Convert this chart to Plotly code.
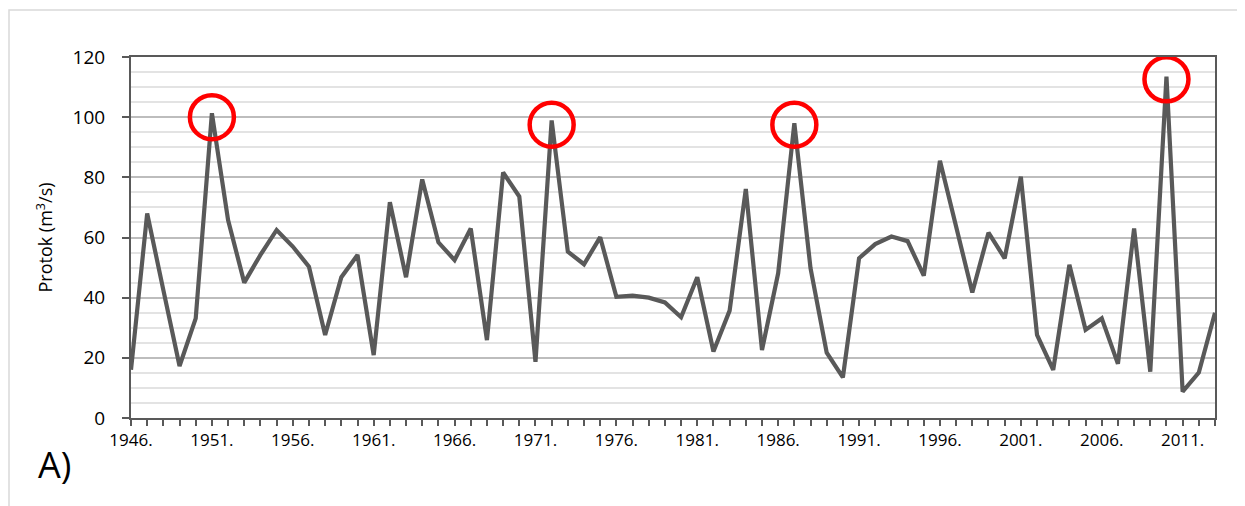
import plotly.graph_objects as go

# Godišnji protok, 1946.-2013.
years = list(range(1946, 2014))
flow = [
    16.0, 68.0, 42.5, 17.3, 33.1, 101.3, 65.8, 45.0, 54.2, 62.5,
    57.0, 50.3, 27.6, 46.8, 54.2, 20.9, 71.7, 46.8, 79.3, 58.4,
    52.5, 63.0, 25.9, 81.6, 73.6, 18.7, 98.9, 55.3, 51.1, 60.1,
    40.3, 40.7, 40.0, 38.4, 33.5, 46.8, 22.1, 35.7, 76.1, 22.6,
    48.1, 98.0, 49.8, 21.7, 13.5, 53.1, 57.8, 60.3, 58.8, 47.3,
    85.5, 63.5, 41.7, 61.6, 53.1, 80.2, 27.6, 16.0, 50.9, 29.3,
    33.1, 18.0, 63.0, 15.4, 113.5, 8.8, 15.1, 35.0,
]

# Istaknuti maksimumi (crveni krugovi)
peak_years = [1951, 1972, 1987, 2010]
peak_values = [100.0, 97.5, 97.5, 112.6]

tick_years = list(range(1946, 2014, 5))
tick_labels = [f"{y}." for y in tick_years]

FONT = "Open Sans"
DARK = "#595959"

# stranica ima 8px margine u body, pa je figura za toliko manja
W, H = 1237, 498
ML, MR, MT, MB = 123, 30, 49, 88
PW, PH = W - ML - MR, H - MT - MB

fig = go.Figure()

fig.add_trace(go.Scatter(
    x=years,
    y=flow,
    mode="lines",
    line=dict(color=DARK, width=4.2),
    hoverinfo="x+y",
    showlegend=False,
))

fig.add_trace(go.Scatter(
    x=peak_years,
    y=peak_values,
    mode="markers",
    marker=dict(symbol="circle-open", size=44, color="#ff0000",
                line=dict(color="#ff0000", width=4.5)),
    hoverinfo="skip",
    showlegend=False,
))

fig.update_layout(
    width=W,
    height=H,
    margin=dict(l=ML, r=MR, t=MT, b=MB, autoexpand=False),
    paper_bgcolor="white",
    plot_bgcolor="white",
    font=dict(family=FONT, size=17, color="#000000"),
    xaxis=dict(
        range=[1946, 2013],
        tickvals=tick_years,
        ticktext=tick_labels,
        tickangle=0,
        ticks="outside",
        ticklen=6,
        tickwidth=1.5,
        tickcolor=DARK,
        tickfont=dict(size=17),
        minor=dict(dtick=1, tick0=1946, ticks="outside", ticklen=6,
                   tickwidth=1.5, tickcolor=DARK, showgrid=False),
        showgrid=False,
        zeroline=False,
        showline=True,
        linecolor=DARK,
        linewidth=2,
        mirror=True,
    ),
    yaxis=dict(
        range=[0, 120],
        dtick=20,
        ticks="outside",
        ticklen=7,
        tickwidth=1.5,
        tickcolor=DARK,
        tickfont=dict(size=19),
        ticklabelstandoff=13,
        showgrid=True,
        gridcolor="#bdbdbd",
        gridwidth=1.5,
        minor=dict(dtick=5, showgrid=True, gridcolor="#e3e3e3", gridwidth=1.5),
        zeroline=False,
        showline=True,
        linecolor=DARK,
        linewidth=2,
        mirror=True,
        title=dict(text="Protok (m<sup>3</sup>/s)", font=dict(size=18), standoff=15),
    ),
    shapes=[
        # vanjski okvir grafikona
        dict(type="rect", xref="paper", yref="paper",
             x0=(-ML + 1) / PW, x1=1.1, y0=-0.3, y1=1 + (MT - 2) / PH,
             line=dict(color="#d9d9d9", width=1.5), layer="below"),
    ],
    annotations=[
        dict(text="A)", xref="paper", yref="paper",
             x=-77 / PW, y=-46 / PH, xanchor="center", yanchor="middle",
             showarrow=False, font=dict(size=36, color="#000000")),
    ],
)

fig.write_html("out.html")
